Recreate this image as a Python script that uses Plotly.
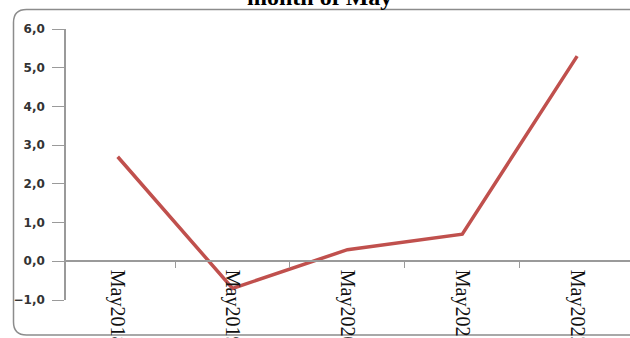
import plotly.graph_objects as go

# Monthly values for May, year by year
months = ["May2018", "May2019", "May2020", "May2021", "May2022"]
values = [2.7, -0.7, 0.3, 0.7, 5.3]
y_ticks = [-1, 0, 1, 2, 3, 4, 5, 6]
title_text = "month of May"

W, H = 630, 338
L, R, T, B = 66, 630, 29, 300  # plot area in pixels


def xp(px):
    return (px - L) / (R - L)


def yp(py):
    return (B - py) / (B - T)


fig = go.Figure()
fig.add_trace(go.Scatter(
    x=months, y=values, mode="lines",
    line=dict(color="#c0504d", width=3.5),
    hoverinfo="skip",
))

# rounded frame around the chart
x0, x1 = xp(13.5), xp(650)
yt, yb = yp(9.5), yp(335)
rx, ry = 13 / (R - L), 13 / (B - T)
frame = (f"M {x0 + rx} {yt} L {x1} {yt} L {x1} {yb} L {x0 + rx} {yb} "
         f"Q {x0} {yb} {x0} {yb + ry} L {x0} {yt - ry} Q {x0} {yt} {x0 + rx} {yt} Z")
fig.add_shape(type="path", path=frame, xref="paper", yref="paper",
              line=dict(color="#8c8c8c", width=1.5), layer="below")

fig.add_annotation(
    text=title_text, x=xp(319), y=yp(12), xref="paper", yref="paper",
    xanchor="center", yanchor="bottom", showarrow=False,
    font=dict(family="Liberation Serif", size=24, color="#000000", weight="bold"),
)

fig.update_layout(
    width=W, height=H,
    margin=dict(l=L, r=W - R, t=T, b=H - B, pad=0, autoexpand=False),
    paper_bgcolor="white", plot_bgcolor="white",
    showlegend=False,
    separators=",.",
    xaxis=dict(
        type="category", range=[-0.45, 4.46], automargin=False,
        anchor="free", position=yp(261),
        showline=True, linecolor="#9a9a9a", linewidth=1.5,
        ticks="outside", tickson="boundaries", ticklen=6, tickcolor="#9a9a9a",
        tickangle=90, showgrid=False, zeroline=False, ticklabelstandoff=4,
        tickfont=dict(family="Liberation Serif", size=20, color="#111111"),
    ),
    yaxis=dict(
        range=[-1, 6], tickvals=y_ticks, tickformat=".1f", automargin=False,
        showline=True, linecolor="#9a9a9a", linewidth=1.5,
        ticks="outside", ticklen=12, tickcolor="#9a9a9a",
        showgrid=False, zeroline=False, ticklabelstandoff=5,
        tickfont=dict(family="DejaVu Sans", size=12, color="#333333", weight="bold"),
    ),
)

fig.write_html("out.html")
